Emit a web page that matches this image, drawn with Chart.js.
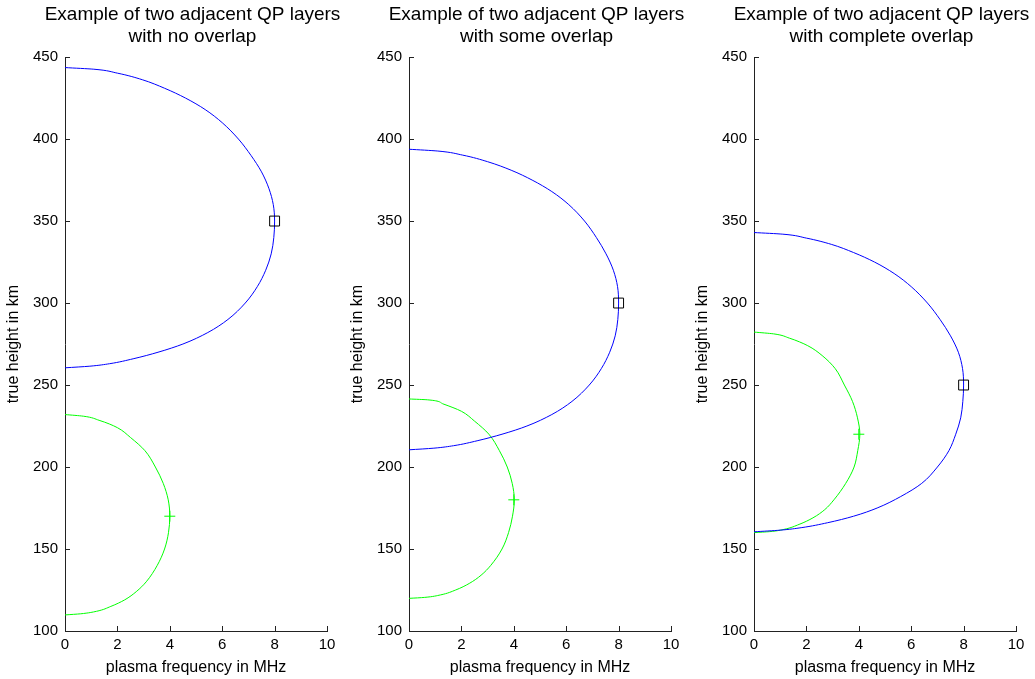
<!DOCTYPE html>
<html>
<head>
<meta charset="utf-8">
<script src="https://cdn.jsdelivr.net/npm/chart.js@4.4.1/dist/chart.umd.min.js"></script>
<style>
    body { margin: 0; background: #fff; width: 1035px; height: 679px; overflow: hidden; position: relative; }
    canvas { position: absolute; top: 0; }
</style>
</head>
<body>
<canvas id="noOverlap" width="385" height="679" style="left:0px"></canvas>
<canvas id="someOverlap" width="385" height="679" style="left:344px"></canvas>
<canvas id="fullOverlap" width="385" height="679" style="left:689px"></canvas>
<script>
// Data (frequency in MHz, height in km), top of each layer to bottom
const noOverlapBlueFreq   = [0, 1.1, 2.0, 2.95, 3.8, 4.6, 5.35, 6.0, 6.62, 7.1, 7.5, 7.78, 7.95, 8, 7.97, 7.87, 7.66, 7.34, 6.88, 6.22, 5.45, 4.5, 3.55, 2.6, 1.7, 0.95, 0]
const noOverlapBlueHeight = [443.6, 442.6, 440.2, 436.2, 431, 425, 418, 410, 400, 390, 380, 370, 360, 350, 340, 330, 320, 310, 300, 290, 282, 275, 270, 266, 263, 261.5, 260.5]
const noOverlapGreenFreq   = [0, 0.7, 1.3, 2.0, 2.5, 3.05, 3.45, 3.75, 3.94, 4.0, 3.95, 3.8, 3.52, 3.1, 2.72, 2.28, 1.75, 1.2, 0.6, 0]
const noOverlapGreenHeight = [232, 231, 228.5, 224, 218, 210, 200, 190, 180, 170, 160, 150, 140, 130, 124, 119, 115, 112, 110.5, 109.8]

const someOverlapBlueFreq   = [0, 1.1, 2.05, 3.0, 3.9, 4.7, 5.45, 6.1, 6.7, 7.15, 7.52, 7.8, 7.96, 8, 7.97, 7.87, 7.66, 7.34, 6.88, 6.22, 5.45, 4.5, 3.55, 2.6, 1.7, 0.95, 0]
const someOverlapBlueHeight = [393.8, 392.7, 390.2, 386.2, 381, 375, 368, 360, 350, 340, 330, 320, 310, 300, 290, 280, 270, 260, 250, 240, 232, 225, 220, 216, 213, 211.5, 210.5]
const someOverlapGreenFreq   = [0, 0.7, 1.3, 2.0, 2.5, 3.05, 3.45, 3.75, 3.94, 4.02, 3.95, 3.8, 3.55, 3.12, 2.75, 2.3, 1.78, 1.2, 0.6, 0]
const someOverlapGreenHeight = [241.5, 241, 238.5, 234, 228, 220, 210, 200, 190, 180, 170, 160, 150, 140, 134, 129, 125, 122, 120.5, 119.9]

const fullOverlapBlueFreq   = [0, 1.1, 2.0, 2.95, 3.8, 4.6, 5.35, 6.0, 6.62, 7.1, 7.5, 7.8, 7.96, 8, 7.97, 7.89, 7.7, 7.44, 7.0, 6.4, 5.6, 4.7, 3.8, 2.8, 1.8, 1.0, 0]
const fullOverlapBlueHeight = [343.0, 342.0, 339.6, 335.8, 330.8, 325, 318, 310, 300, 290, 280, 270, 260, 250, 240, 230, 220, 210, 200, 190, 182, 175, 170, 166, 163, 161.5, 160.5]
const fullOverlapGreenFreq   = [0, 0.75, 1.35, 2.05, 2.6, 3.1, 3.45, 3.76, 3.95, 4.04, 3.96, 3.82, 3.5, 3.05, 2.7, 2.25, 1.72, 1.15, 0.6, 0]
const fullOverlapGreenHeight = [282.3, 281.2, 278.6, 274, 268, 260, 250, 240, 230, 220, 210, 200, 190, 180, 174, 169, 165, 162, 160.6, 160]

// Peak markers: [freq, height]
const bluePeaks = [[8, 350], [8, 300], [8, 250]]
const greenPeaks = [[4, 170], [4, 180], [4, 220]]

const panelTitles = [
    ['Example of two adjacent QP layers', 'with no overlap'],
    ['Example of two adjacent QP layers', 'with some overlap'],
    ['Example of two adjacent QP layers', 'with complete overlap'],
]

Chart.defaults.font.family = "'Liberation Sans', Arial, sans-serif"
Chart.defaults.color = '#000'

function toPoints(freq, height) {
    return freq.map(function(f, i) {
        return { x: f, y: height[i] }
    })
}

// MATLAB style ticks pointing into the axes
const innerTicks = {
    id: 'innerTicks',
    afterDraw(chart) {
        const { ctx, chartArea, scales } = chart
        ctx.save()
        ctx.strokeStyle = '#222'
        ctx.lineWidth = 1
        ctx.beginPath()
        scales.x.ticks.forEach(function(t) {
            let px = Math.round(scales.x.getPixelForValue(t.value)) + 0.5
            ctx.moveTo(px, chartArea.bottom)
            ctx.lineTo(px, chartArea.bottom - 5)
        })
        scales.y.ticks.forEach(function(t) {
            let py = Math.round(scales.y.getPixelForValue(t.value)) + 0.5
            ctx.moveTo(chartArea.left, py)
            ctx.lineTo(chartArea.left + 5, py)
        })
        ctx.stroke()
        ctx.restore()
    }
}

function makePanel(id, i, blueFreq, blueHeight, greenFreq, greenHeight) {
    new Chart(id, {
        type: 'scatter',
        data: {
            datasets: [
                {
                    // square on blue peak
                    data: [{ x: bluePeaks[i][0], y: bluePeaks[i][1] }],
                    pointStyle: 'rect',
                    pointRadius: 7,
                    pointBorderColor: '#000',
                    pointBackgroundColor: 'rgba(0,0,0,0)',
                    pointBorderWidth: 1,
                },
                {
                    // cross on green peak
                    data: [{ x: greenPeaks[i][0], y: greenPeaks[i][1] }],
                    pointStyle: 'cross',
                    pointRadius: 5.5,
                    pointBorderColor: '#00ff00',
                    pointBorderWidth: 1,
                },
                {
                    data: toPoints(blueFreq, blueHeight),
                    showLine: true,
                    borderColor: '#0000ff',
                    borderWidth: 1,
                    pointRadius: 0,
                    cubicInterpolationMode: 'monotone',
                },
                {
                    data: toPoints(greenFreq, greenHeight),
                    showLine: true,
                    borderColor: '#00ff00',
                    borderWidth: 1,
                    pointRadius: 0,
                    cubicInterpolationMode: 'monotone',
                },
            ]
        },
        options: {
            responsive: false,
            animation: false,
            // heights are the running axis of each layer curve
            indexAxis: 'y',
            layout: { padding: 0 },
            scales: {
                x: {
                    type: 'linear',
                    min: 0,
                    max: 10,
                    grid: { display: false, drawTicks: false },
                    border: { display: true, color: '#222' },
                    ticks: { stepSize: 2, padding: 5, font: { size: 15 } },
                    title: {
                        display: true,
                        text: 'plasma frequency in MHz',
                        font: { size: 16 },
                        padding: { top: 0, bottom: 2 },
                    },
                    afterFit: function(s) { s.height = 48 },
                },
                y: {
                    type: 'linear',
                    min: 100,
                    max: 450,
                    grid: { display: false, drawTicks: false },
                    border: { display: true, color: '#222' },
                    ticks: { stepSize: 50, padding: 7, font: { size: 15 } },
                    title: {
                        display: true,
                        text: 'true height in km',
                        font: { size: 16 },
                        padding: { top: 4, bottom: 0 },
                    },
                    afterFit: function(s) { s.width = 65 },
                },
                // empty right-hand space so the title centres over the axes
                yPad: {
                    position: 'right',
                    grid: { display: false, drawTicks: false },
                    border: { display: false },
                    ticks: { display: false },
                    afterFit: function(s) { s.width = 58 },
                },
            },
            plugins: {
                legend: { display: false },
                tooltip: { enabled: false },
                title: {
                    display: true,
                    text: panelTitles[i],
                    font: { size: 19, weight: 'normal', lineHeight: 1.16 },
                    padding: { top: 4, bottom: 9 },
                },
            },
        },
        plugins: [innerTicks],
    })
}

makePanel('noOverlap', 0, noOverlapBlueFreq, noOverlapBlueHeight, noOverlapGreenFreq, noOverlapGreenHeight)
makePanel('someOverlap', 1, someOverlapBlueFreq, someOverlapBlueHeight, someOverlapGreenFreq, someOverlapGreenHeight)
makePanel('fullOverlap', 2, fullOverlapBlueFreq, fullOverlapBlueHeight, fullOverlapGreenFreq, fullOverlapGreenHeight)
</script>
</body>
</html>
